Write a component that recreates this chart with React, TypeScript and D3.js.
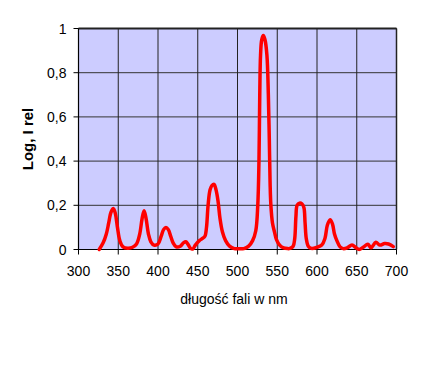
import React from "react";
import * as d3 from "d3";

const wavelengths = [
  326, 331, 335, 338, 341, 344, 346.5, 349, 352, 356, 362, 368, 373, 377, 380, 382.5, 385, 388, 391, 395,
  400, 404, 407, 410, 413, 416, 419, 423, 428, 432, 435, 438, 441, 444, 447, 452, 456, 459, 461, 463,
  465.5, 468, 470.5, 473, 475.5, 478, 481, 485, 490, 496, 502, 508, 514, 519, 523, 525.5, 527, 528, 529,
  530.5, 532.5, 534.5, 537, 538.8, 540, 541, 542, 544, 546.5, 549, 553, 558, 563, 566, 570, 572, 573.5,
  575, 578, 581, 583.5, 585, 586.5, 589, 593, 600, 606, 610, 613, 616.5, 619.5, 622, 625, 629, 633, 638,
  644, 649, 653, 658, 664, 668, 674, 679, 685, 690, 696,
];
const intensities = [
  0, 0.03, 0.07, 0.12, 0.17, 0.185, 0.16, 0.1, 0.04, 0.012, 0.006, 0.01, 0.025, 0.07, 0.14, 0.175, 0.14, 0.07, 0.035, 0.02,
  0.025, 0.06, 0.09, 0.1, 0.09, 0.06, 0.03, 0.012, 0.015, 0.03, 0.035, 0.022, 0.005, 0.003, 0.02, 0.04, 0.05, 0.06, 0.1, 0.2,
  0.27, 0.29, 0.295, 0.27, 0.22, 0.14, 0.08, 0.04, 0.015, 0.004, 0.003, 0.004, 0.015, 0.04, 0.085, 0.2, 0.4, 0.7, 0.88,
  0.95, 0.968, 0.95, 0.88, 0.7, 0.5, 0.3, 0.2, 0.12, 0.08, 0.045, 0.02, 0.007, 0.004, 0.005, 0.015, 0.05, 0.15,
  0.2, 0.21, 0.207, 0.19, 0.12, 0.05, 0.015, 0.005, 0.01, 0.02, 0.05, 0.11, 0.135, 0.115, 0.07, 0.04, 0.012, 0.004, 0.008,
  0.02, 0.008, 0.0, 0.01, 0.024, 0.008, 0.033, 0.02, 0.027, 0.025, 0.013,
];
const xTicks = [300, 350, 400, 450, 500, 550, 600, 650, 700];
const yTicks = [0, 0.2, 0.4, 0.6, 0.8, 1];
const xTitle = "długość fali w nm";
const yTitle = "Log, I rel";

const W = 426;
const H = 379;
const L = 78.5;
const R = 396.5;
const T = 28.5;
const B = 249.5;

export default function App() {
  const x = d3.scaleLinear().domain([300, 700]).range([L, R]);
  const y = d3.scaleLinear().domain([0, 1]).range([B, T]);
  const pts = wavelengths.map((w, i) => [w, intensities[i]] as [number, number]);
  const line = d3
    .line<[number, number]>()
    .x((d) => x(d[0]))
    .y((d) => y(d[1]))
    .curve(d3.curveCatmullRom.alpha(0.5));
  const font = "Liberation Sans, Arial, sans-serif";
  const fmt = (v: number) => (v === 0 || v === 1 ? String(v) : String(v).replace(".", ","));
  return (
    <svg
      width={W}
      height={H}
      style={{ position: "absolute", left: 0, top: 0, background: "#fff" }}
      fontFamily={font}
    >
      <rect x={L} y={T} width={R - L} height={B - T} fill="#CCCCFF" />
      {yTicks.map((t) => (
        <line key={"gy" + t} x1={L} x2={R} y1={y(t)} y2={y(t)} stroke="#333" strokeWidth={1} />
      ))}
      {xTicks.map((t) => (
        <line key={"gx" + t} x1={x(t)} x2={x(t)} y1={T} y2={B} stroke="#222" strokeWidth={1} />
      ))}
      <line x1={L} x2={R} y1={T} y2={T} stroke="#222" strokeWidth={2} />
      <line x1={R} x2={R} y1={T} y2={B} stroke="#222" strokeWidth={1.5} />
      <line x1={L} x2={L} y1={T} y2={B} stroke="#000" strokeWidth={1.2} />
      <line x1={L} x2={R} y1={B} y2={B} stroke="#000" strokeWidth={1.2} />
      {yTicks.map((t) => (
        <g key={"ty" + t}>
          <line x1={L - 5} x2={L} y1={y(t)} y2={y(t)} stroke="#000" strokeWidth={1} />
          <text x={L - 12} y={y(t) + 5} fontSize={14} textAnchor="end" fill="#000">
            {fmt(t)}
          </text>
        </g>
      ))}
      {xTicks.map((t) => (
        <g key={"tx" + t}>
          <line x1={x(t)} x2={x(t)} y1={B} y2={B + 5} stroke="#000" strokeWidth={1} />
          <text x={x(t)} y={275.5} fontSize={14} textAnchor="middle" fill="#000">
            {t}
          </text>
        </g>
      ))}
      <path d={line(pts) || ""} fill="none" stroke="#FF0000" strokeWidth={3.5} strokeLinejoin="round" strokeLinecap="round" />
      <text x={234} y={304} fontSize={14} textAnchor="middle" fill="#000">
        {xTitle}
      </text>
      <text
        transform={`translate(33,139) rotate(-90)`}
        fontSize={15}
        fontWeight="bold"
        textAnchor="middle"
        fill="#000"
      >
        {yTitle}
      </text>
    </svg>
  );
}
